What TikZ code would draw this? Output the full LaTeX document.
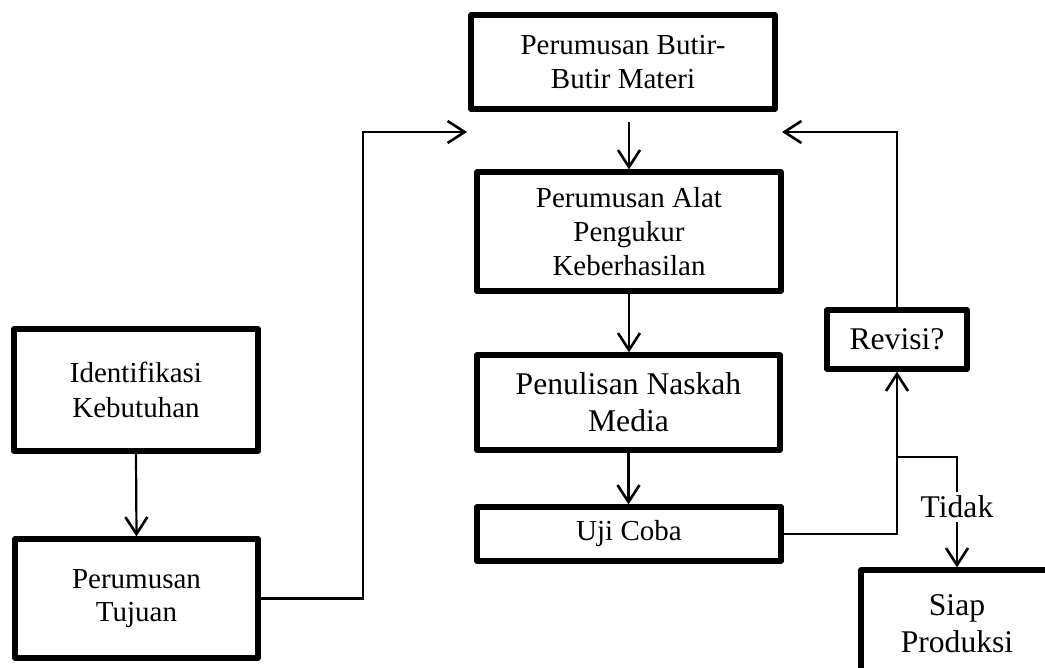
\documentclass[tikz,border=0pt]{standalone}
\usepackage{fontspec}
\setmainfont{Liberation Serif}
\usetikzlibrary{arrows.meta}

\begin{document}
\begin{tikzpicture}[x=0.5pt,y=-0.5pt,
    box/.style={draw,line width=2.6pt,line join=round,align=center,inner sep=0pt,
        font=\fontsize{14.5}{16.8}\selectfont},
    bigtext/.style={font=\fontsize{15.8}{18.5}\selectfont},
    arr/.style={line width=1.1pt,-{Straight Barb[length=8.5pt,width=11pt,line width=1.3pt]}}]
    \useasboundingbox (0,0) rectangle (1045,668);
    % left column
    \node[box,minimum width=122pt,minimum height=61pt,font=\fontsize{14.5}{17.5}\selectfont] (ident) at (136,390) {Identifikasi\\Kebutuhan};
    \node[box,minimum width=121.5pt,minimum height=59.5pt] (tujuan) at (136.5,598.5) {Perumusan\\Tujuan};
    % middle column
    \node[box,minimum width=152pt,minimum height=47pt] (butir) at (623,62) {Perumusan Butir-\\Butir Materi};
    \node[box,minimum width=152pt,minimum height=59.5pt] (alat) at (629,231.5) {Perumusan Alat\\Pengukur\\Keberhasilan};
    \node[box,bigtext,minimum width=151.5pt,minimum height=47.5pt] (naskah) at (628.5,402.5) {Penulisan Naskah\\Media};
    \node[box,minimum width=152pt,minimum height=27pt] (uji) at (629,534) {Uji Coba};
    % right column
    \node[box,bigtext,minimum width=70pt,minimum height=29.5pt] (revisi) at (897,339.5) {Revisi?};
    \node[box,bigtext,minimum width=96pt,minimum height=54pt] (siap) at (957,624) {Siap\\Produksi};

    \coordinate (up) at (363,132);
    \coordinate (butirin) at (467,132);
    \coordinate (butirret) at (782,132);
    \coordinate (fork) at (897,457);

    \draw[arr] (ident.south) -- (tujuan.north);
    \draw[arr] (tujuan.east) -| (up) -- (butirin);
    \draw[arr,shorten <=5pt] (butir.south -| alat.north) -- (alat.north);
    \draw[arr] (alat.south) -- (alat.south |- naskah.north);
    \draw[arr] (naskah.south) -- (naskah.south |- uji.north);
    \draw[arr] (uji.east) -| (revisi.south);
    \draw[arr] (revisi.north) |- (butirret);
    \draw[arr] (fork) -| node[pos=0.725,fill=white,bigtext,inner sep=2pt] (tidak) {Tidak} (siap.north);
\end{tikzpicture}
\end{document}
